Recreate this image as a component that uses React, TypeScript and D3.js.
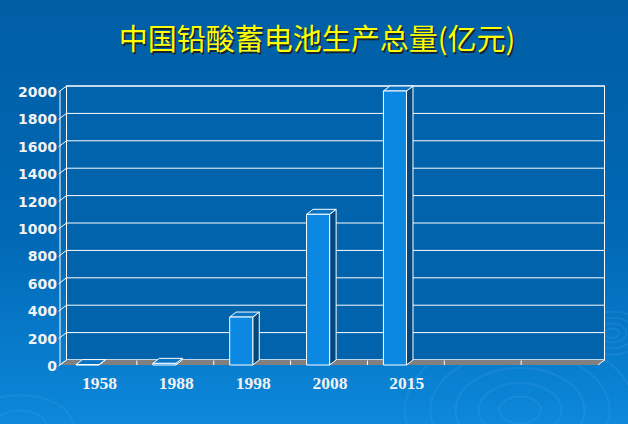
import React from "react";
import * as d3 from "d3";

const years = ["1958", "1988", "1998", "2008", "2015"];
const output = [3, 12, 350, 1100, 2000];
const yTicks = [0, 200, 400, 600, 800, 1000, 1200, 1400, 1600, 1800, 2000];
const slots = 7; // the category axis keeps two empty slots on the right

const W = 628;
const H = 424;
const DX = 6.5; // depth offset, front -> back
const DY = -5;

const App: React.FC = () => {
  const x = d3.scaleBand<number>().domain(d3.range(slots)).range([60, 598]);
  const bw = x.bandwidth();
  // back wall scale, front face is shifted by the depth
  const yBack = d3.scaleLinear().domain([0, 2000]).range([360, 86]);
  const yFront = (v: number) => yBack(v) - DY;
  const floorY = yFront(0);
  const left = x.range()[0];
  const right = x.range()[1];

  const pts = (p: [number, number][]) => p.map((d) => d.join(",")).join(" ");

  return (
    <svg
      width={W}
      height={H}
      style={{ position: "absolute", left: 0, top: 0, display: "block" }}
    >
      <defs>
        <linearGradient id="bg" x1="0" y1="0" x2="0" y2="1">
          <stop offset="0" stopColor="#005ea5" />
          <stop offset="0.55" stopColor="#0068b4" />
          <stop offset="1" stopColor="#0d88da" />
        </linearGradient>
      </defs>
      <rect width={W} height={H} fill="url(#bg)" />

      {/* faint ripples */}
      <g fill="none" stroke="#5fb8f5" strokeOpacity={0.15} strokeWidth={2}>
        {[18, 36, 56, 78, 100].map((r) => (
          <ellipse key={"a" + r} cx={520} cy={410} rx={r * 1.15} ry={r * 0.75} />
        ))}
        {[6, 12, 19, 27].map((r) => (
          <ellipse key={"b" + r} cx={612} cy={333} rx={r * 1.2} ry={r * 0.8} />
        ))}
        {[22, 44].map((r) => (
          <ellipse key={"c" + r} cx={20} cy={426} rx={r * 1.2} ry={r * 0.7} />
        ))}
      </g>

      {/* title */}
      <g
        fontFamily="'Noto Sans CJK SC', sans-serif"
        fontSize={29}
        textAnchor="middle"
      >
        <text x={318.5} y={51.5} fill="#1a1a1a" opacity={0.85}>
          中国铅酸蓄电池生产总量(亿元)
        </text>
        <text x={317} y={50} fill="#ffff00">
          中国铅酸蓄电池生产总量(亿元)
        </text>
      </g>

      {/* back wall */}
      <rect
        x={left + DX}
        y={yBack(2000)}
        width={right - left}
        height={yBack(0) - yBack(2000)}
        fill="#0063ab"
        stroke="#ffffff"
        strokeWidth={1}
      />
      <g stroke="#ffffff" strokeWidth={1}>
        {yTicks.map((t) => (
          <g key={t}>
            <line x1={left + DX} x2={right + DX} y1={yBack(t)} y2={yBack(t)} />
            <line x1={left - 1.5} y1={yFront(t) + 1} x2={left + DX} y2={yBack(t)} />
          </g>
        ))}
        <line x1={left} x2={left} y1={yFront(2000)} y2={floorY} />
      </g>

      {/* floor */}
      <polygon
        points={pts([
          [left, floorY],
          [right, floorY],
          [right + DX, floorY + DY],
          [left + DX, floorY + DY],
        ])}
        fill="#808080"
      />
      <g stroke="#ffffff" strokeWidth={1}>
        {d3.range(1, slots).map((i) => (
          <line
            key={i}
            x1={x(i)!}
            x2={x(i)!}
            y1={floorY + DY + 0.5}
            y2={floorY}
          />
        ))}
        <line x1={right} y1={floorY} x2={right + DX} y2={floorY + DY} />
        <line x1={left} y1={floorY} x2={left + DX} y2={floorY + DY} />
      </g>

      {/* bars */}
      <g stroke="#ffffff" strokeWidth={1} strokeLinejoin="round">
        {output.map((v, i) => {
          const x0 = x(i)! + bw * 0.208;
          const w = bw * 0.3;
          const yt = yFront(v);
          return (
            <g key={years[i]}>
              <polygon
                points={pts([
                  [x0 + w, yt],
                  [x0 + w + DX, yt + DY],
                  [x0 + w + DX, floorY + DY],
                  [x0 + w, floorY],
                ])}
                fill="#02487e"
              />
              <polygon
                points={pts([
                  [x0, yt],
                  [x0 + DX, yt + DY],
                  [x0 + w + DX, yt + DY],
                  [x0 + w, yt],
                ])}
                fill="#0a74c4"
              />
              <rect x={x0} y={yt} width={w} height={floorY - yt} fill="#0a88e2" />
            </g>
          );
        })}
      </g>

      {/* value axis labels */}
      <g
        fontFamily="'DejaVu Sans', Verdana, sans-serif"
        fontWeight="bold"
        fontSize={14}
        fill="#f2f2f2"
        textAnchor="end"
      >
        {yTicks.map((t) => (
          <text key={t} x={57} y={yFront(t) + 6}>
            {t}
          </text>
        ))}
      </g>

      {/* category labels */}
      <g
        fontFamily="'Liberation Serif', 'Times New Roman', serif"
        fontWeight="bold"
        fontSize={17.5}
        fill="#f2f2f2"
        textAnchor="middle"
      >
        {years.map((yr, i) => (
          <text key={yr} x={x(i)! + bw / 2 + 1} y={388.5}>
            {yr}
          </text>
        ))}
      </g>
    </svg>
  );
};

export default App;
